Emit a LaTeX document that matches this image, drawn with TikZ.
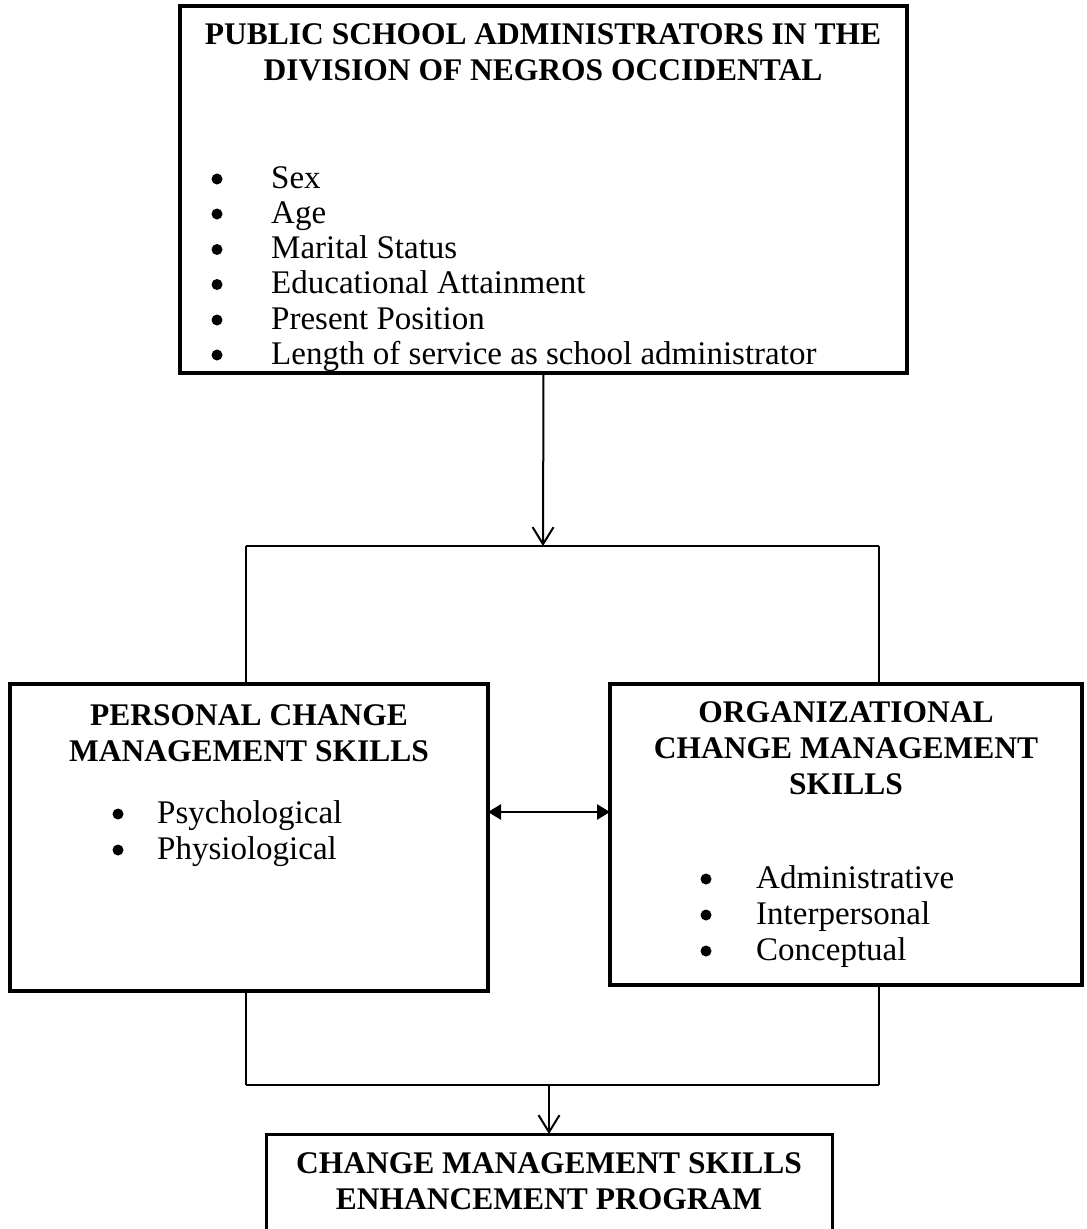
\documentclass[tikz,border=0pt]{standalone}
\usepackage{fontspec}
\setmainfont{Liberation Serif}
\usetikzlibrary{arrows.meta}
\newcommand{\bodyfont}{\fontsize{33}{36}\selectfont}
\newcommand{\titlefont}{\fontsize{31.5}{36}\selectfont\bfseries}
\tikzset{
  box/.style={draw, line width=3.5pt, rectangle, inner sep=0pt, outer sep=0pt},
  conn/.style={line width=2pt},
  barb/.style={-{Straight Barb[length=17pt,width=21pt]}},
  dbl/.style={line width=2.5pt, {Triangle[length=13pt,width=15pt]}-{Triangle[length=13pt,width=15pt]}},
  txt/.style={inner sep=0pt, text height=22pt, text depth=6pt, font=\bodyfont, anchor=west},
  dot/.style={circle, fill=black, inner sep=0pt, minimum size=11pt},
  ttl/.style={inner sep=0pt, text height=22pt, text depth=7pt, font=\titlefont},
}
\begin{document}
\begin{tikzpicture}[x=1pt,y=-1pt]
\clip (0,0) rectangle (1087,1229);
\fill[white] (0,0) rectangle (1087,1229);
% boxes
\node[box, anchor=north west, minimum width=727pt, minimum height=367pt] (pub) at (180,6) {};
\node[box, anchor=north west, minimum width=478pt, minimum height=307pt] (pers) at (10,684) {};
\node[box, anchor=north west, minimum width=472pt, minimum height=301pt] (org) at (610,684) {};
\node[box, line width=3pt, anchor=north, minimum width=566pt, minimum height=200pt] (prog) at (549,1134) {};
% top box texts
\node[ttl] (pubt1) at (543,37) {PUBLIC SCHOOL ADMINISTRATORS IN THE};
\node[ttl] (pubt2) at (543,73) {DIVISION OF NEGROS OCCIDENTAL};
\foreach \n/\y/\t in {1/180/Sex, 2/215/Age, 3/250.5/Marital Status, 4/285.5/Educational Attainment, 5/321/Present Position, 6/356/Length of service as school administrator}{
  \node[dot] (pubb\n) at (217,\y-1) {};
  \node[txt] (pubi\n) at (271,\y) {\t};
}
% left box texts
\node[ttl] (perst1) at (249,718) {PERSONAL CHANGE};
\node[ttl] (perst2) at (249,754) {MANAGEMENT SKILLS};
\foreach \n/\y/\t in {1/815/Psychological, 2/851/Physiological}{
  \node[dot] (persb\n) at (118,\y-1) {};
  \node[txt] (persi\n) at (157,\y) {\t};
}
% right box texts
\node[ttl] (orgt1) at (846,715) {ORGANIZATIONAL};
\node[ttl] (orgt2) at (846,751) {CHANGE MANAGEMENT};
\node[ttl] (orgt3) at (846,787) {SKILLS};
\foreach \n/\y/\t in {1/880/Administrative, 2/916/Interpersonal, 3/952/Conceptual}{
  \node[dot] (orgb\n) at (706,\y-1) {};
  \node[txt] (orgi\n) at (756,\y) {\t};
}
% bottom box texts
\node[ttl] (progt1) at (549,1166) {CHANGE MANAGEMENT SKILLS};
\node[ttl] (progt2) at (549,1202) {ENHANCEMENT PROGRAM};
% connectors
\coordinate (jt) at (543,546);
\coordinate (jl) at (246,546);
\coordinate (jr) at (879,546);
\coordinate (bl) at (246,1085);
\coordinate (br) at (879,1085);
\coordinate (jb) at (549,1085);
\draw[conn, barb] (pub.south) -- (jt);
\draw[conn] (jl) -- (jr);
\draw[conn] (jl) -- (jl |- pers.north);
\draw[conn] (jr) -- (jr |- org.north);
\draw[dbl] (pers.east |- 0,812) -- (org.west |- 0,812);
\draw[conn] (bl |- pers.south) -- (bl);
\draw[conn] (br |- org.south) -- (br);
\draw[conn] (bl) -- (br);
\draw[conn, barb] (jb) -- (prog.north);
\end{tikzpicture}
\end{document}
